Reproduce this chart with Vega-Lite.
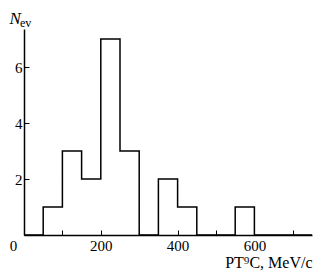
{
  "$schema": "https://vega.github.io/schema/vega-lite/v6.json",
  "width": 288,
  "height": 206,
  "autosize": {"type": "none"},
  "padding": {"left": 24, "top": 29, "right": 15, "bottom": 45},
  "background": "white",
  "config": {"view": {"stroke": null}, "font": "Liberation Serif"},
  "title": {
    "text": "ev",
    "anchor": "start",
    "orient": "top",
    "frame": "group",
    "fontSize": 12,
    "font": "Liberation Serif",
    "fontWeight": "normal",
    "color": "black",
    "baseline": "alphabetic",
    "dx": -4,
    "dy": 32,
    "offset": 2
  },
  "data": {
    "values": [
      {"p": 0, "n": 0},
      {"p": 50, "n": 1},
      {"p": 100, "n": 3},
      {"p": 150, "n": 2},
      {"p": 200, "n": 7},
      {"p": 250, "n": 3},
      {"p": 300, "n": 0},
      {"p": 350, "n": 2},
      {"p": 400, "n": 1},
      {"p": 450, "n": 0},
      {"p": 500, "n": 0},
      {"p": 550, "n": 1},
      {"p": 600, "n": 0},
      {"p": 750, "n": 0}
    ]
  },
  "mark": {"type": "line", "interpolate": "step-after", "color": "black", "strokeWidth": 1.5},
  "encoding": {
    "x": {
      "field": "p",
      "type": "quantitative",
      "scale": {"domain": [0, 750], "nice": false, "zero": false},
      "axis": {
        "values": [0, 100, 200, 300, 400, 500, 600, 700],
        "labelExpr": "datum.value % 200 == 0 ? datum.label : ''",
        "grid": false,
        "domainColor": "black",
        "domainWidth": 1.5,
        "tickColor": "black",
        "tickSize": -5,
        "tickWidth": 1,
        "labelFontSize": 15,
        "labelColor": "black",
        "labelFont": "Liberation Serif",
        "labelPadding": 8,
        "labelFlush": false,
        "labelOverlap": false,
        "labelOffset": {"condition": {"test": "datum.value == 0", "value": -11}, "value": 0},
        "title": "PT⁹C, MeV/c",
        "titleFont": "Liberation Serif",
        "titleFontSize": 16,
        "titleFontWeight": "normal",
        "titleColor": "black",
        "titleAnchor": "end",
        "titleAlign": "right",
        "titleBaseline": "alphabetic",
        "titleX": 288,
        "titleY": 32
      }
    },
    "y": {
      "field": "n",
      "type": "quantitative",
      "scale": {"domain": [0, 7.36], "nice": false},
      "axis": {
        "values": [2, 4, 6],
        "grid": false,
        "domainColor": "black",
        "domainWidth": 1.5,
        "tickColor": "black",
        "tickSize": -5,
        "tickWidth": 1,
        "labelFontSize": 15,
        "labelColor": "black",
        "labelFont": "Liberation Serif",
        "labelPadding": 7,
        "title": "N",
        "titleFont": "Liberation Serif",
        "titleFontSize": 17,
        "titleFontStyle": "italic",
        "titleFontWeight": "normal",
        "titleColor": "black",
        "titleAngle": 0,
        "titleAlign": "left",
        "titleBaseline": "alphabetic",
        "titleX": -15,
        "titleY": -6
      }
    }
  }
}
